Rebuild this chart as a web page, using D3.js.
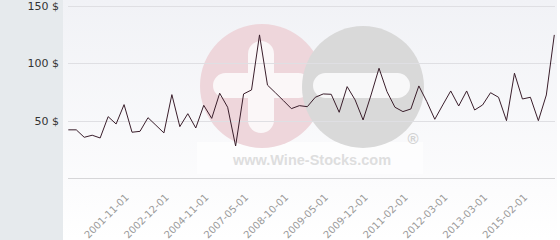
<!DOCTYPE html>
<html>
<head>
<meta charset="utf-8">
<script src="https://cdn.jsdelivr.net/npm/d3@7"></script>
<style>
html,body{margin:0;padding:0;background:#fff;}
svg{display:block;}
</style>
</head>
<body>
<svg id="chart" width="560" height="240"></svg>
<script>
const prices = [42, 42, 35.5, 37.3, 34.9, 53.5, 47.1, 64, 39.9, 40.7,
  52.6, 46, 39.3, 72.7, 44.8, 56.1, 43.6, 63.4, 52, 73.9,
  61.7, 27.9, 73.3, 76.8, 124.8, 81, 74.3, 67.5, 60.5, 63.1,
  62.2, 70.4, 73.3, 73, 57.3, 79.7, 68.1, 50.6, 72.4, 95.7,
  75.3, 61.7, 57.9, 60.2, 80.3, 66.6, 51.2, 63.7, 75.9, 62.8,
  75.9, 59.3, 63.7, 74.4, 70.4, 50, 91.4, 68.9, 70.4, 50,
  72.4, 124.8];
const tickIndexes = [7, 12, 17, 22, 27, 32, 37, 42, 47, 52, 57];
const tickLabels = ["2001-11-01", "2002-12-01", "2004-11-01", "2007-05-01", "2008-10-01",
  "2009-05-01", "2009-12-01", "2011-02-01", "2012-03-01", "2013-03-01", "2015-02-01"];
const yTicks = [50, 100, 150];

const svg = d3.select("#chart");
const W = 560, H = 240;

const defs = svg.append("defs");
const grad = defs.append("linearGradient").attr("id", "bg").attr("x1", 0).attr("y1", 0).attr("x2", 0).attr("y2", 1);
grad.append("stop").attr("offset", "0%").attr("stop-color", "#f1f2f6");
grad.append("stop").attr("offset", "80%").attr("stop-color", "#fcfcfd");
grad.append("stop").attr("offset", "100%").attr("stop-color", "#ffffff");

svg.append("rect").attr("x", 0).attr("y", 0).attr("width", W).attr("height", H).attr("fill", "#fff");
svg.append("rect").attr("x", 63).attr("y", 0).attr("width", 494).attr("height", H).attr("fill", "url(#bg)");
svg.append("rect").attr("x", 0).attr("y", 0).attr("width", 63).attr("height", H).attr("fill", "#e6eaed");

const x = d3.scalePoint().domain(d3.range(prices.length)).range([68.3, 554.3]);
const y = d3.scaleLinear().domain([0, 150]).range([178, 6]);

// watermark
const wm = svg.append("g");
wm.append("rect").attr("x", 197).attr("y", 142).attr("width", 226).attr("height", 32).attr("fill", "#ffffff").attr("opacity", 0.6);
wm.append("circle").attr("cx", 262).attr("cy", 86).attr("r", 62).attr("fill", "#eed6db");
wm.append("rect").attr("x", 248).attr("y", 41).attr("width", 26).attr("height", 92).attr("rx", 13).attr("fill", "#fbf7f8");
wm.append("rect").attr("x", 213).attr("y", 73).attr("width", 98).attr("height", 25).attr("rx", 12.5).attr("fill", "#fbf7f8");
wm.append("circle").attr("cx", 363).attr("cy", 87).attr("r", 61).attr("fill", "#d9d9d9");
wm.append("rect").attr("x", 313).attr("y", 73).attr("width", 97).attr("height", 25).attr("rx", 12.5).attr("fill", "#f8f8f9");
wm.append("text").attr("x", 312).attr("y", 165).attr("text-anchor", "middle")
  .attr("font-family", "Liberation Sans, Arial, sans-serif").attr("font-weight", "bold")
  .attr("font-size", 14.5).attr("fill", "#dedede").text("www.Wine-Stocks.com");
wm.append("text").attr("x", 413).attr("y", 144).attr("text-anchor", "middle")
  .attr("font-family", "Liberation Sans, Arial, sans-serif").attr("font-weight", "bold")
  .attr("font-size", 15).attr("fill", "#d2d2d2").text("®");

// gridlines
svg.append("g").selectAll("line").data(yTicks).join("line")
  .attr("x1", 68).attr("x2", 555)
  .attr("y1", d => Math.round(y(d)) + 0.5).attr("y2", d => Math.round(y(d)) + 0.5)
  .attr("stroke", "#dfdfe3").attr("stroke-width", 1);
svg.append("line").attr("x1", 68).attr("x2", 555)
  .attr("y1", Math.round(y(0)) + 0.5).attr("y2", Math.round(y(0)) + 0.5)
  .attr("stroke", "#d6d6d8").attr("stroke-width", 1);

// y labels
svg.append("g").selectAll("text").data(yTicks).join("text")
  .attr("x", 59).attr("y", d => y(d) + 4)
  .attr("text-anchor", "end")
  .attr("font-family", "DejaVu Sans, sans-serif").attr("font-size", 11)
  .attr("fill", "#333").text(d => d + " $");

// x labels
svg.append("g").selectAll("text").data(tickIndexes).join("text")
  .attr("transform", d => `translate(${x(d) + 5.5},198) rotate(-45)`)
  .attr("text-anchor", "end")
  .attr("font-family", "DejaVu Sans, sans-serif").attr("font-size", 10)
  .attr("fill", "#9a9a9a").text((d, i) => tickLabels[i]);

// line
svg.append("path").datum(prices)
  .attr("fill", "none").attr("stroke", "#3a1e2b").attr("stroke-width", 1)
  .attr("stroke-linejoin", "miter")
  .attr("d", d3.line().x((d, i) => x(i)).y(d => y(d)));
</script>
</body>
</html>
